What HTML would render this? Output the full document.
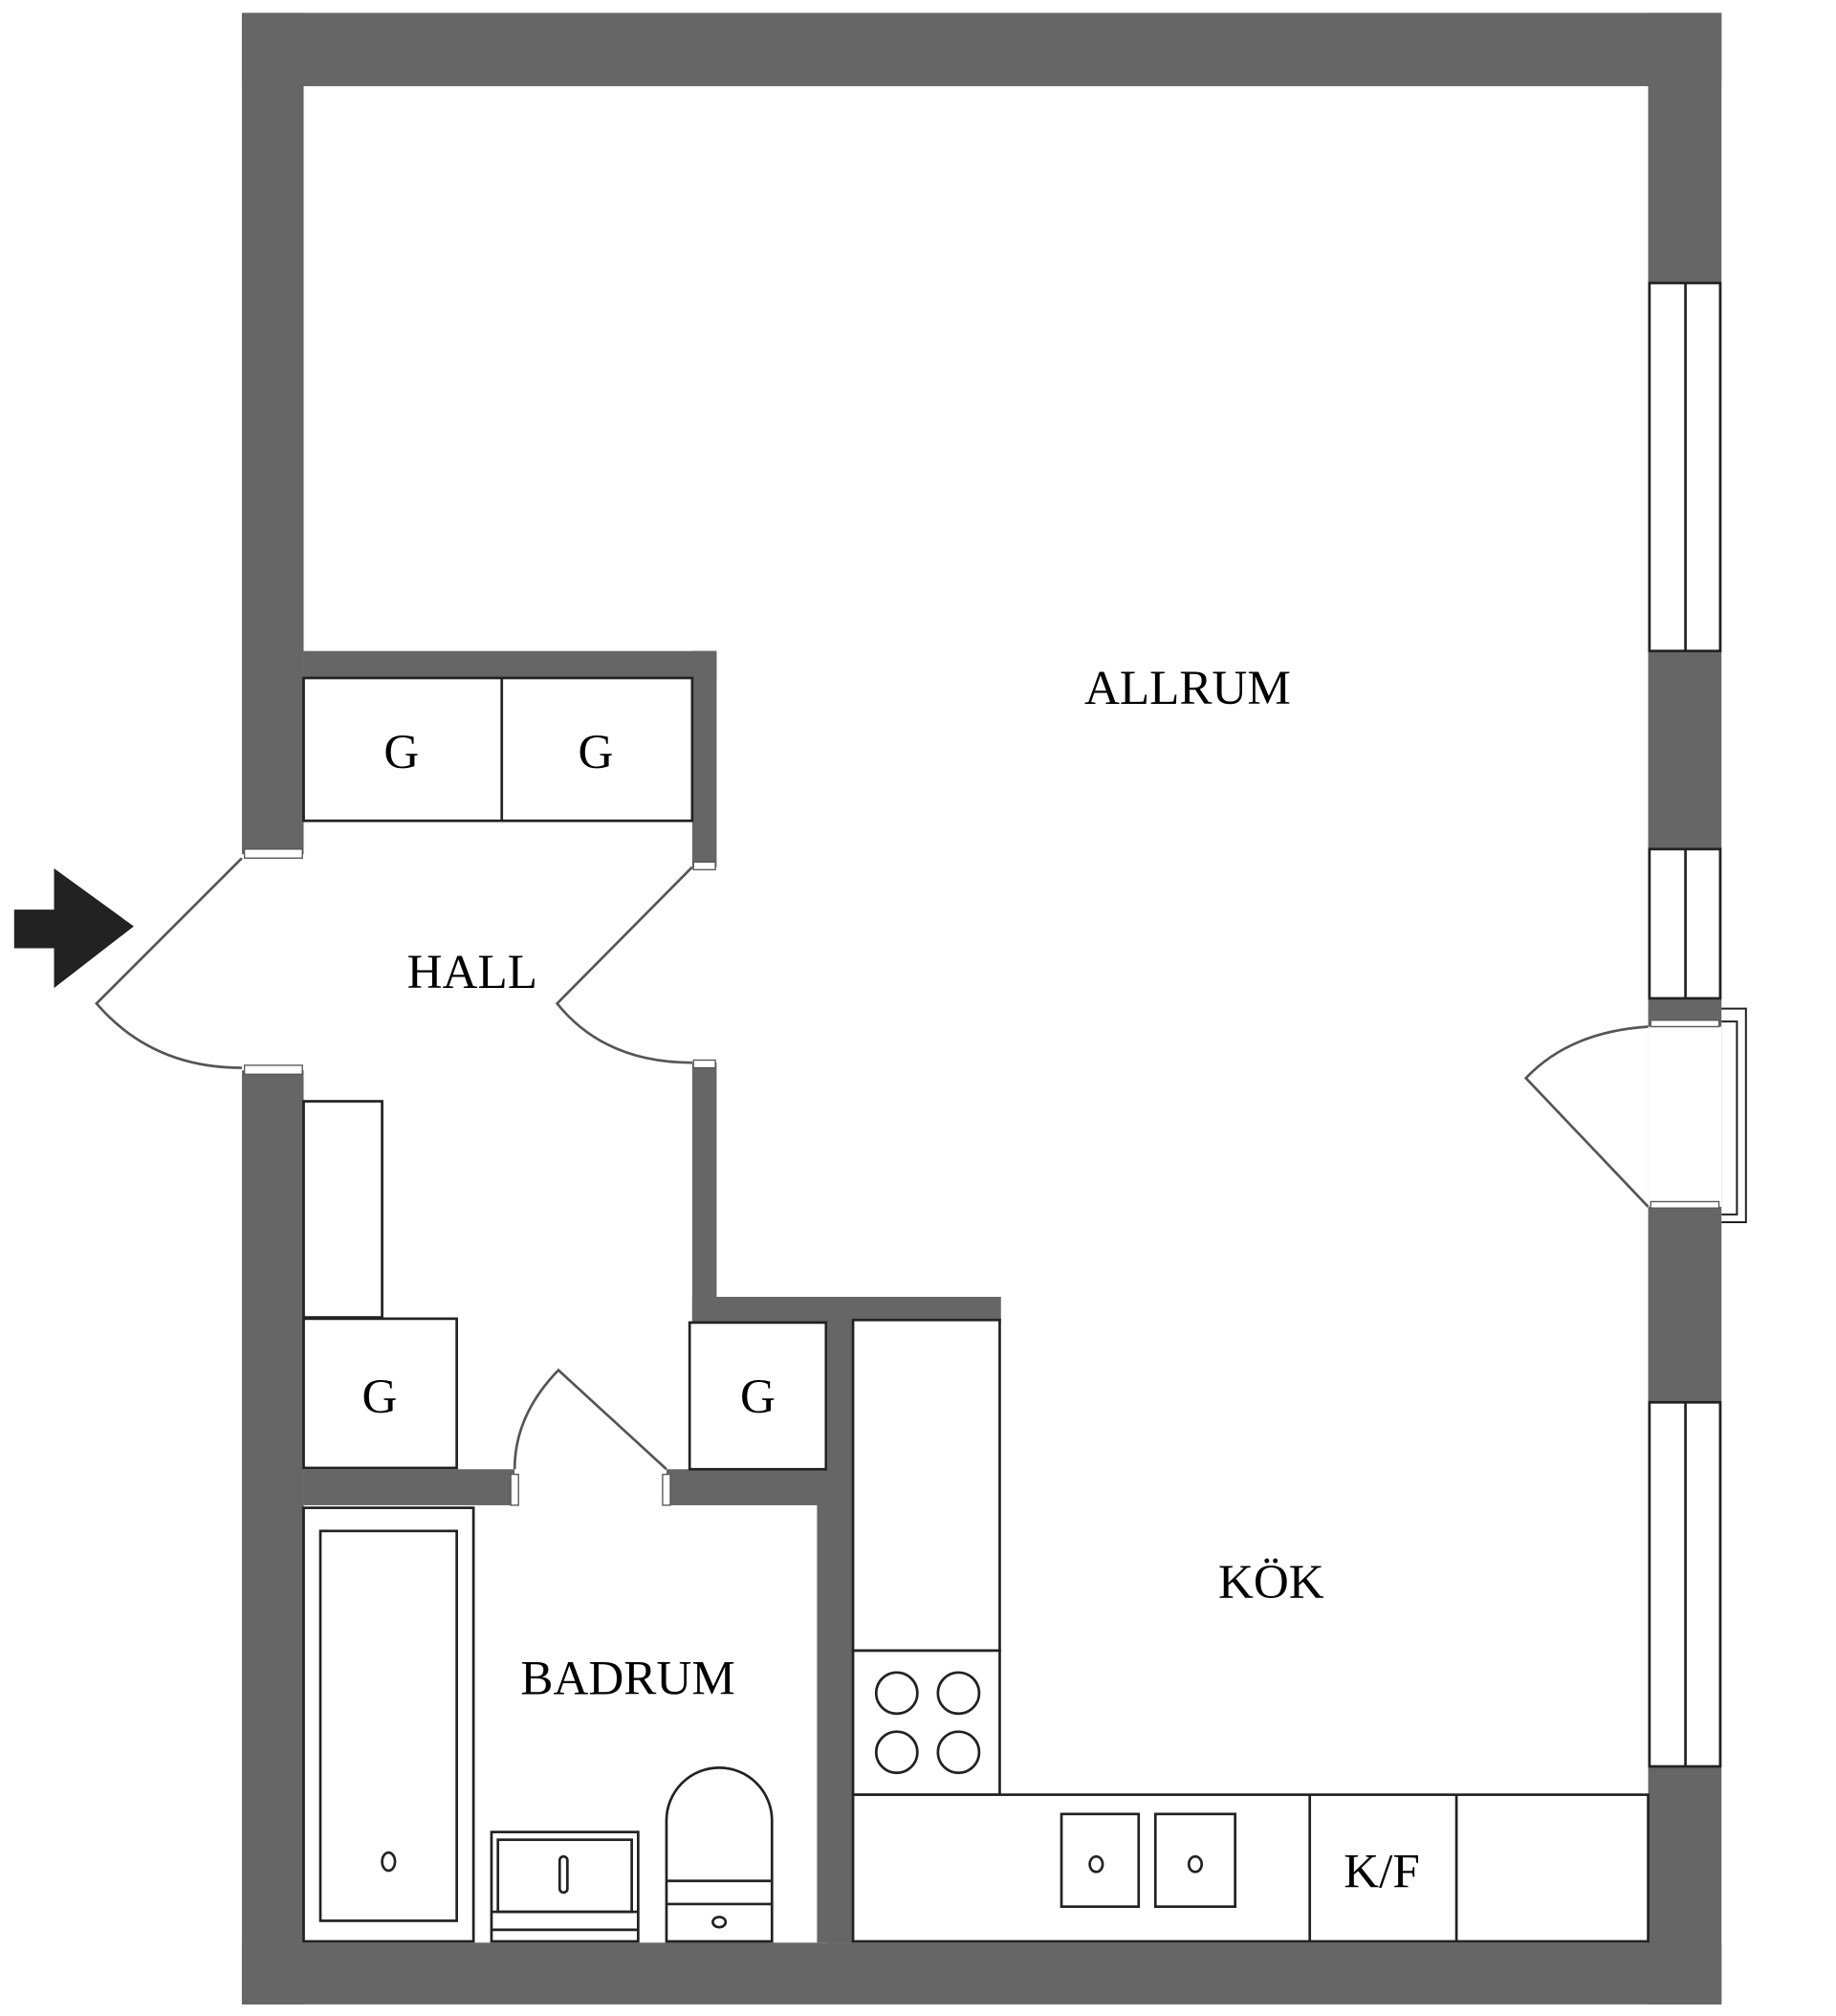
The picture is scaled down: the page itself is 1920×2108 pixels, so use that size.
<!DOCTYPE html>
<html><head><meta charset="utf-8"><style>
html,body{margin:0;padding:0;background:#fff;}
svg{display:block;}
text{font-family:"Liberation Serif",serif;fill:#000;text-anchor:middle;}
</style></head><body>
<svg width="1920" height="2108" viewBox="0 0 1427 1567" preserveAspectRatio="none" xmlns="http://www.w3.org/2000/svg">
<g fill="#666">
<rect x="188" y="10" width="1150" height="57"/>
<rect x="188" y="1510" width="1150" height="48"/>
<rect x="188" y="10" width="48" height="654"/>
<rect x="188" y="832" width="48" height="726"/>
<rect x="1281" y="10" width="57" height="1548"/>
<rect x="236" y="506" width="321" height="21"/>
<rect x="538" y="506" width="19" height="168"/>
<rect x="538" y="826" width="19" height="202"/>
<rect x="538" y="1008" width="240" height="20"/>
<rect x="643" y="1008" width="20" height="502"/>
<rect x="635" y="1142" width="28" height="368"/>
<rect x="236" y="1142" width="164" height="28"/>
<rect x="518" y="1142" width="145" height="28"/>
</g>
<g fill="#fff" stroke="#222" stroke-width="2">
<rect x="1282" y="220" width="55" height="286"/>
<rect x="1282" y="660" width="55" height="116"/>
<rect x="1282" y="1090" width="55" height="283"/>
</g>
<g stroke="#222" stroke-width="2">
<line x1="1310" y1="220" x2="1310" y2="506"/>
<line x1="1310" y1="660" x2="1310" y2="776"/>
<line x1="1310" y1="1090" x2="1310" y2="1373"/>
</g>
<rect x="1281" y="798" width="57" height="140" fill="#fff"/>
<rect x="1283" y="793" width="53" height="5" fill="#fff" stroke="#555" stroke-width="1"/>
<rect x="1283" y="934" width="53" height="5" fill="#fff" stroke="#555" stroke-width="1"/>
<path d="M1338 784 H1357 V950 H1338 M1338 794 H1350 V944 H1338" fill="none" stroke="#222" stroke-width="1.5"/>
<path d="M1281 938 L1186 838 Q1220 802 1281 798" fill="none" stroke="#555" stroke-width="2"/>
<rect x="190" y="660" width="45" height="7" fill="#fff" stroke="#555" stroke-width="1"/>
<rect x="190" y="828" width="45" height="7" fill="#fff" stroke="#555" stroke-width="1"/>
<path d="M188 667 L75 780 Q118 830 188 830" fill="none" stroke="#555" stroke-width="2"/>
<path d="M11 707 H42 V675 L104 720 L42 768 V737 H11 Z" fill="#222"/>
<rect x="539" y="670" width="17" height="6" fill="#fff" stroke="#555" stroke-width="1"/>
<rect x="539" y="824" width="17" height="6" fill="#fff" stroke="#555" stroke-width="1"/>
<path d="M538 674 L433 780 Q470 826 538 826" fill="none" stroke="#555" stroke-width="2"/>
<rect x="397" y="1146" width="6" height="24" fill="#fff" stroke="#555" stroke-width="1"/>
<rect x="515" y="1146" width="6" height="24" fill="#fff" stroke="#555" stroke-width="1"/>
<path d="M518 1142 L434 1065 Q400 1100 400 1142" fill="none" stroke="#555" stroke-width="2"/>
<g fill="#fff" stroke="#222" stroke-width="2">
<rect x="236" y="527" width="302" height="111"/>
<line x1="390" y1="527" x2="390" y2="638"/>
<rect x="236" y="856" width="61" height="168"/>
<rect x="236" y="1025" width="119" height="116"/>
<rect x="536" y="1028" width="106" height="114"/>
<rect x="236" y="1172" width="132" height="337"/>
<rect x="249" y="1190" width="106" height="303"/>
<ellipse cx="302" cy="1447" rx="5" ry="7"/>
<rect x="382" y="1424" width="114" height="85"/>
<rect x="387" y="1430" width="104" height="56"/>
<line x1="382" y1="1486" x2="496" y2="1486"/>
<line x1="382" y1="1500" x2="496" y2="1500"/>
<rect x="435" y="1443" width="6" height="28" rx="3"/>
<path d="M518 1509 V1415 A41 41 0 0 1 600 1415 V1509 Z"/>
<line x1="518" y1="1462" x2="600" y2="1462"/>
<line x1="518" y1="1480" x2="600" y2="1480"/>
<ellipse cx="559" cy="1494" rx="5" ry="4"/>
<rect x="663" y="1026" width="114" height="257"/>
<rect x="663" y="1283" width="114" height="112"/>
<circle cx="697" cy="1316" r="16"/>
<circle cx="745" cy="1316" r="16"/>
<circle cx="697" cy="1362" r="16"/>
<circle cx="745" cy="1362" r="16"/>
<rect x="663" y="1395" width="618" height="114"/>
<line x1="1018" y1="1395" x2="1018" y2="1509"/>
<line x1="1132" y1="1395" x2="1132" y2="1509"/>
<rect x="825" y="1410" width="60" height="72"/>
<rect x="898" y="1410" width="62" height="72"/>
<ellipse cx="852" cy="1449" rx="5" ry="6"/>
<ellipse cx="929" cy="1449" rx="5" ry="6"/>
</g>
<g font-size="38">
<text x="923" y="547">ALLRUM</text>
<text x="367" y="768">HALL</text>
<text x="988" y="1242">KÖK</text>
<text x="488" y="1317">BADRUM</text>
<text x="1074" y="1467">K/F</text>
<text x="312" y="597">G</text>
<text x="463" y="597">G</text>
<text x="295" y="1098">G</text>
<text x="589" y="1098">G</text>
</g>
</svg>
</body></html>
